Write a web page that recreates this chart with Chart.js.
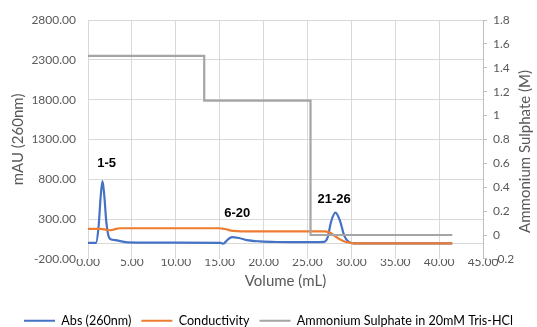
<!DOCTYPE html>
<html>
<head>
<meta charset="utf-8">
<script src="https://cdn.jsdelivr.net/npm/chart.js@4.4.1/dist/chart.umd.min.js"></script>
<style>
  html, body { margin: 0; padding: 0; background: #ffffff; }
  #wrap { width: 537px; height: 327px; }
</style>
</head>
<body>
<div id="wrap"><canvas id="chart" width="537" height="327"></canvas></div>
<script>
// Abs (260nm) trace, mAU against elution volume (mL)
const absVolume = [0, 0.9, 1.2, 1.45, 1.65, 1.85, 2.1, 2.4, 2.8, 3.3, 3.8, 4.5, 10.0, 15.1, 15.4, 15.9, 16.4, 17.2, 18.1, 19.6, 21.5, 24.0, 26.9, 27.3, 27.7, 28.2, 28.7, 29.2, 29.7, 30.3, 35.0, 41.5];
const absMau    = [0, 0, 200, 590, 778, 600, 250, 70, 40, 32, 20, 8, 4, 2, -10, 40, 74, 62, 36, 20, 12, 10, 15, 70, 270, 380, 280, 90, 15, -5, -5, -5];

// Conductivity trace
const condVolume = [0, 1.5, 2.1, 2.5, 3.0, 3.6, 15.0, 15.6, 16.5, 17.5, 26.5, 27.0, 27.6, 28.1, 28.7, 29.3, 29.9, 30.6, 41.5];
const condValue  = [178, 176, 165, 160, 170, 185, 185, 175, 152, 146, 146, 145, 128, 88, 45, 16, 3, -5, -5];

// Ammonium sulphate step gradient (M)
const saltVolume = [0, 13.24, 13.24, 25.35, 25.35, 41.5];
const saltMolar  = [1.5, 1.5, 1.125, 1.125, 0, 0];

// Pooled fraction annotations (volume, mAU anchor)
const fractionLabels = ['1-5', '6-20', '21-26'];
const fractionVolume = [2.13, 17.0, 28.04];
const fractionMau    = [1000, 372, 548];

const seriesNames = ['Abs (260nm)', 'Conductivity', 'Ammonium Sulphate in 20mM Tris-HCl'];

const toPoints = (xs, ys) => xs.map((x, i) => ({ x: x, y: ys[i] }));

Chart.defaults.font.family = 'Lato';
Chart.defaults.color = '#595959';

const zeroLine = {
  id: 'zeroLine',
  beforeDatasetsDraw(chart) {
    const { ctx, chartArea } = chart;
    const y0 = Math.round(chart.scales.y.getPixelForValue(0)) + 0.5;
    ctx.save();
    ctx.strokeStyle = '#d9d9d9';
    ctx.lineWidth = 1;
    ctx.beginPath();
    ctx.moveTo(chartArea.left, y0);
    ctx.lineTo(chartArea.right, y0);
    ctx.stroke();
    ctx.restore();
  }
};

const fractionText = {
  id: 'fractionText',
  afterDatasetsDraw(chart) {
    const { ctx } = chart;
    ctx.save();
    ctx.font = 'bold 13px "Liberation Sans", Arial, sans-serif';
    ctx.fillStyle = '#000000';
    ctx.textAlign = 'center';
    ctx.textBaseline = 'middle';
    fractionLabels.forEach((t, i) => {
      ctx.fillText(t,
        chart.scales.x.getPixelForValue(fractionVolume[i]),
        chart.scales.y.getPixelForValue(fractionMau[i]));
    });
    ctx.restore();
  }
};

const rightTitle = {
  id: 'rightTitle',
  afterDraw(chart) {
    const { ctx, chartArea } = chart;
    ctx.save();
    ctx.font = '15px Lato';
    ctx.fillStyle = '#595959';
    ctx.textAlign = 'center';
    ctx.textBaseline = 'middle';
    ctx.translate(chart.width - 12, (chartArea.top + chartArea.bottom) / 2 + 12);
    ctx.rotate(-Math.PI / 2);
    ctx.fillText('Ammonium Sulphate (M)', 0, 0);
    ctx.restore();
  }
};

new Chart(document.getElementById('chart'), {
  type: 'line',
  data: {
    datasets: [
      {
        label: seriesNames[0],
        data: toPoints(absVolume, absMau),
        yAxisID: 'y',
        borderColor: '#4472c4',
        backgroundColor: '#4472c4',
        borderWidth: 2.2,
        pointRadius: 0,
        cubicInterpolationMode: 'monotone',
        tension: 0.4,
        order: 3
      },
      {
        label: seriesNames[1],
        data: toPoints(condVolume, condValue),
        yAxisID: 'y',
        borderColor: '#ed7d31',
        backgroundColor: '#ed7d31',
        borderWidth: 2.2,
        pointRadius: 0,
        cubicInterpolationMode: 'monotone',
        tension: 0.4,
        order: 2
      },
      {
        label: seriesNames[2],
        data: toPoints(saltVolume, saltMolar),
        yAxisID: 'y2',
        borderColor: '#a5a5a5',
        backgroundColor: '#a5a5a5',
        borderWidth: 2.2,
        pointRadius: 0,
        tension: 0,
        order: 1
      }
    ]
  },
  options: {
    responsive: false,
    devicePixelRatio: 1,
    animation: false,
    events: [],
    layout: { padding: { top: 20, left: 0, right: 0, bottom: -10 } },
    plugins: {
      tooltip: { enabled: false },
      legend: {
        position: 'bottom',
        labels: {
          boxWidth: 31,
          boxHeight: 2,
          padding: 10,
          color: '#595959',
          font: { size: 12.6, family: 'Lato' },
          sort: (a, b) => a.datasetIndex - b.datasetIndex,
          generateLabels(chart) {
            return chart.data.datasets.map((ds, i) => ({
              text: ds.label,
              fillStyle: ds.borderColor,
              strokeStyle: ds.borderColor,
              lineWidth: 0,
              hidden: false,
              datasetIndex: i
            }));
          }
        }
      }
    },
    scales: {
      x: {
        type: 'linear',
        min: 0,
        max: 45,
        ticks: {
          stepSize: 5,
          autoSkip: false,
          maxRotation: 0,
          padding: -4,
          color: '#595959',
          font: { size: 12 },
          callback: v => Number(v).toFixed(2)
        },
        grid: { color: '#d9d9d9', lineWidth: 1, drawTicks: false },
        border: { display: false },
        title: {
          display: true,
          text: 'Volume (mL)',
          color: '#595959',
          font: { size: 15 },
          padding: { top: 0, bottom: 14 }
        },
        afterFit(scale) { scale.height = 45.5; }
      },
      y: {
        position: 'left',
        min: -200,
        max: 2800,
        ticks: {
          stepSize: 500,
          padding: 12,
          color: '#595959',
          font: { size: 12 },
          callback: v => Number(v).toFixed(2)
        },
        grid: {
          color: c => (c.tick && c.tick.value === -200) ? 'rgba(0,0,0,0)' : '#d9d9d9',
          lineWidth: 1,
          drawTicks: false
        },
        border: { display: false },
        title: {
          display: true,
          text: 'mAU (260nm)',
          color: '#595959',
          font: { size: 15 },
          padding: { top: 9, bottom: 0 }
        },
        afterFit(scale) { scale.width = 88; }
      },
      y2: {
        position: 'right',
        min: -0.2,
        max: 1.8,
        ticks: {
          stepSize: 0.2,
          padding: 6,
          color: '#595959',
          font: { size: 12 },
          callback: v => String(Math.round(v * 10) / 10)
        },
        grid: { drawOnChartArea: false, drawTicks: true, tickLength: 4, color: '#bfbfbf' },
        border: { display: true, color: '#bfbfbf' },
        afterFit(scale) { scale.width = 54; }
      }
    }
  },
  plugins: [zeroLine, fractionText, rightTitle]
});
</script>
</body>
</html>
